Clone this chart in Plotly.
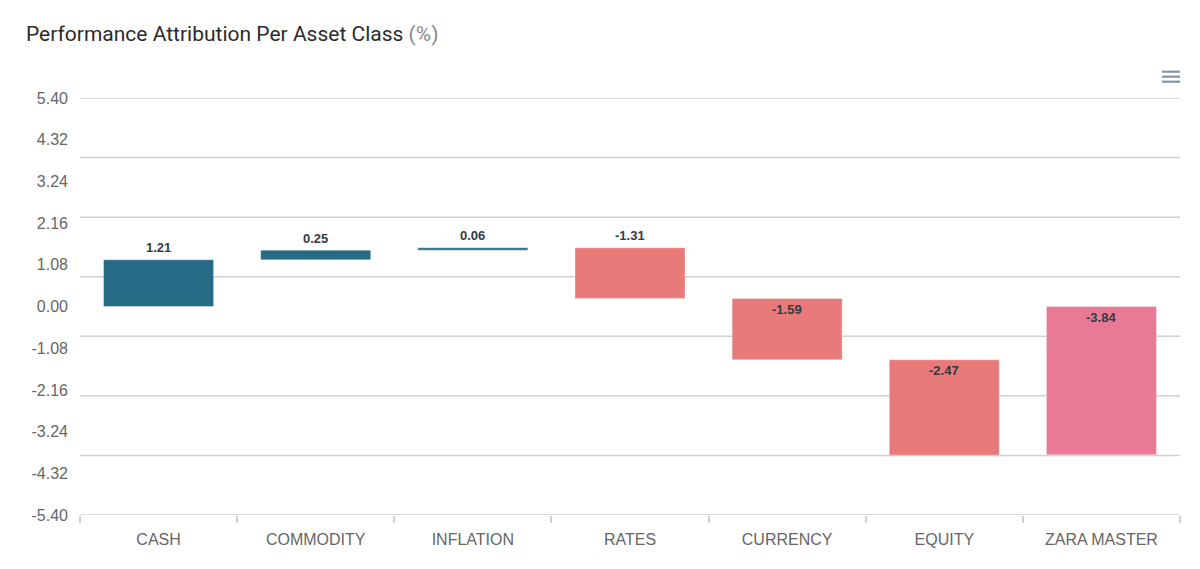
import plotly.graph_objects as go

categories = ["CASH", "COMMODITY", "INFLATION", "RATES", "CURRENCY", "EQUITY", "ZARA MASTER"]
values = [1.21, 0.25, 0.06, -1.31, -1.59, -2.47, -3.84]
measures = ["relative", "relative", "relative", "relative", "relative", "relative", "absolute"]
ytick_vals = [5.40, 4.32, 3.24, 2.16, 1.08, 0.00, -1.08, -2.16, -3.24, -4.32, -5.40]
ytick_text = ["5.40", "4.32", "3.24", "2.16", "1.08", "0.00", "-1.08", "-2.16", "-3.24", "-4.32", "-5.40"]
y_min, y_max = -5.40, 5.40
grid_count = 7

# style: where each data label sits
label_place = ["above", "above", "above", "above", "inside", "inside", "inside"]

POS = "#266a85"
NEG = "#e87a7a"
TOT = "#e87a96"

# page body has an 8px margin; compensate
OFF = 8
W, H = 1200 - OFF, 569 - OFF
L, R, T = 80 - OFF, 20, 98 - OFF
PH = 417
B = H - T - PH
PW = W - L - R

fig = go.Figure()
fig.add_trace(go.Waterfall(
    x=categories,
    y=values,
    measure=measures,
    width=0.7,
    textposition="none",
    increasing=dict(marker=dict(color=POS, line=dict(color="rgba(255,255,255,0.35)", width=1))),
    decreasing=dict(marker=dict(color=NEG, line=dict(color="rgba(255,255,255,0.35)", width=1))),
    totals=dict(marker=dict(color=TOT, line=dict(color="rgba(255,255,255,0.35)", width=1))),
    connector=dict(visible=False),
    hoverinfo="x+y",
))

# data labels at bar tops
cum = 0.0
annotations = []
for cat, v, m, place in zip(categories, values, measures, label_place):
    if m == "absolute":
        start, end = 0.0, v
        cum = v
    else:
        start, end = cum, cum + v
        cum = end
    top = max(start, end)
    annotations.append(dict(
        x=cat, y=top, xref="x", yref="y",
        text="<b>%.2f</b>" % v, showarrow=False,
        yanchor="middle", yshift=12 if place == "above" else -11,
        font=dict(family="Liberation Sans, Arial, sans-serif", size=13, color="#333a45"),
    ))

# gridlines (evenly spaced, independent of labels)
shapes = []
for k in range(grid_count + 1):
    gy = y_max - k * (y_max - y_min) / grid_count
    shapes.append(dict(type="line", xref="paper", yref="y", x0=0, x1=1, y0=gy, y1=gy,
                       line=dict(color="#d0d0d0", width=1.5), layer="below"))

# menu icon (page coordinates -> paper)
for iy in [71.7, 76.7, 81.7]:
    py = iy - OFF
    shapes.append(dict(type="line", xref="paper", yref="paper",
                       x0=(1162 - OFF - L) / PW, x1=(1180 - OFF - L) / PW,
                       y0=(T + PH - py) / PH, y1=(T + PH - py) / PH,
                       line=dict(color="#8594a8", width=2.2)))

fig.update_layout(
    width=W, height=H,
    margin=dict(l=L, r=R, t=T, b=B),
    paper_bgcolor="white", plot_bgcolor="white",
    showlegend=False,
    title=dict(
        text='<span style="color:#2b2b2b">Performance Attribution Per Asset Class</span> <span style="color:#8a8a8a">(%)</span>',
        x=(26 - OFF) / W, xref="container", xanchor="left",
        y=1 - (34 - OFF) / H, yref="container", yanchor="middle",
        font=dict(family="Roboto, sans-serif", size=21, color="#2b2b2b"),
    ),
    xaxis=dict(
        type="category",
        showgrid=False,
        showline=False,
        ticks="outside", tickson="boundaries", ticklen=7, tickcolor="#d0d0d0", tickwidth=1.5,
        tickfont=dict(family="Liberation Sans, Arial, sans-serif", size=16, color="#666666"),
        ticklabelstandoff=13,
        fixedrange=True,
    ),
    yaxis=dict(
        range=[y_min, y_max],
        tickmode="array", tickvals=ytick_vals, ticktext=ytick_text,
        showgrid=False, zeroline=False, showline=False,
        tickfont=dict(family="Liberation Sans, Arial, sans-serif", size=16, color="#666666"),
        ticklabelstandoff=11,
        fixedrange=True,
    ),
    annotations=annotations,
    shapes=shapes,
)

fig.write_html("out.html", config={"displayModeBar": False})
